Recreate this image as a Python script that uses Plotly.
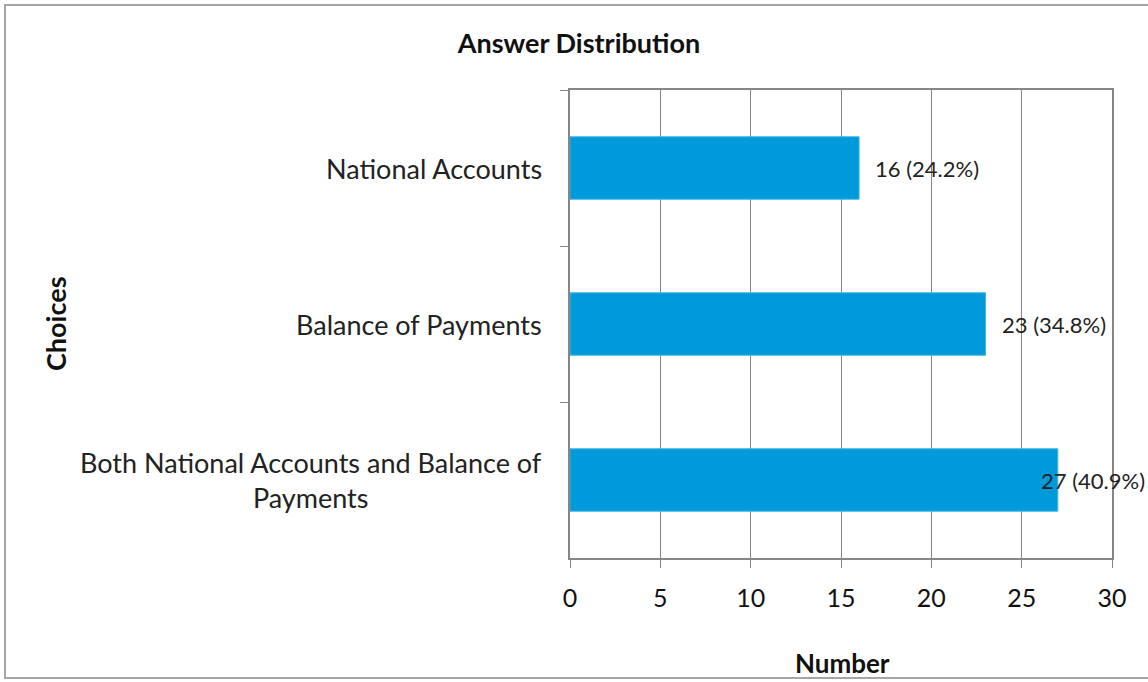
import plotly.graph_objects as go

# Chart data
choices = [
    "National Accounts",
    "Balance of Payments",
    "Both National Accounts and Balance of<br>Payments",
]
counts = [16, 23, 27]
labels = ["16 (24.2%)", "23 (34.8%)", "27 (40.9%)"]
x_ticks = [0, 5, 10, 15, 20, 25, 30]

FONT = "Lato, Carlito, Calibri, sans-serif"
GRID = "#868686"
BAR = "#009ADA"

fig = go.Figure()

fig.add_trace(go.Bar(
    x=counts,
    y=choices,
    orientation="h",
    width=0.4,
    marker=dict(color=BAR, line=dict(color="#3FB4E6", width=1)),
    hoverinfo="x+y",
))

# data labels next to bar ends (last one nudged back inside the frame)
label_shift = [14, 14, -19]
for c, v, t, s in zip(choices, counts, labels, label_shift):
    fig.add_annotation(
        x=v, y=c, xref="x", yref="y", text=t, showarrow=False,
        xanchor="left", xshift=s, font=dict(family=FONT, size=22, color="#222"),
    )

# category labels, lines centred like Excel
for c in choices:
    fig.add_annotation(
        x=0, y=c, xref="paper", yref="y", text=c, showarrow=False,
        xanchor="right", xshift=-26, align="center",
        font=dict(family=FONT, size=27, color="#222"),
    )

# axis titles
fig.add_annotation(
    x=(842 - 570) / 542, y=(558 - 663) / 468, xref="paper", yref="paper",
    xanchor="center", yanchor="middle",
    text="<b>Number</b>", showarrow=False,
    font=dict(family=FONT, size=26, color="#111"),
)
fig.add_annotation(
    x=(55 - 570) / 542, y=(558 - 324) / 468, xref="paper", yref="paper",
    xanchor="center", yanchor="middle",
    text="<b>Choices</b>", showarrow=False, textangle=-90,
    font=dict(family=FONT, size=27, color="#111"),
)

# outer chart border
fig.add_shape(
    type="rect", xref="paper", yref="paper",
    x0=(5 - 570) / 542, x1=(1152 - 570) / 542,
    y0=(558 - 678) / 468, y1=(558 - 5) / 468,
    line=dict(color="#A6A6A6", width=2), layer="below",
)

fig.update_layout(
    width=1148,
    height=682,
    margin=dict(l=570, r=36, t=90, b=124),
    paper_bgcolor="white",
    plot_bgcolor="white",
    showlegend=False,
    title=dict(
        text="<b>Answer Distribution</b>",
        x=579 / 1148, xanchor="center",
        y=1 - 44 / 682, yanchor="middle",
        font=dict(family=FONT, size=27, color="#111"),
    ),
)

fig.update_xaxes(
    range=[0, 30],
    tickvals=x_ticks,
    ticks="outside", ticklen=8, tickcolor=GRID,
    ticklabelstandoff=9,
    showgrid=True, gridcolor=GRID, gridwidth=1,
    showline=True, linecolor=GRID, linewidth=2, mirror=True,
    zeroline=False,
    tickfont=dict(family=FONT, size=25, color="#111"),
)
fig.update_yaxes(
    autorange="reversed",
    showticklabels=False,
    ticks="outside", ticklen=8, tickcolor=GRID,
    tickson="boundaries",
    showgrid=False,
    showline=True, linecolor=GRID, linewidth=2, mirror=True,
)

# drop the default page margin so the figure sits at the window's corner
fig.write_html(
    "out.html",
    config={"displayModeBar": False},
    post_script="document.body.style.margin='0';",
)
